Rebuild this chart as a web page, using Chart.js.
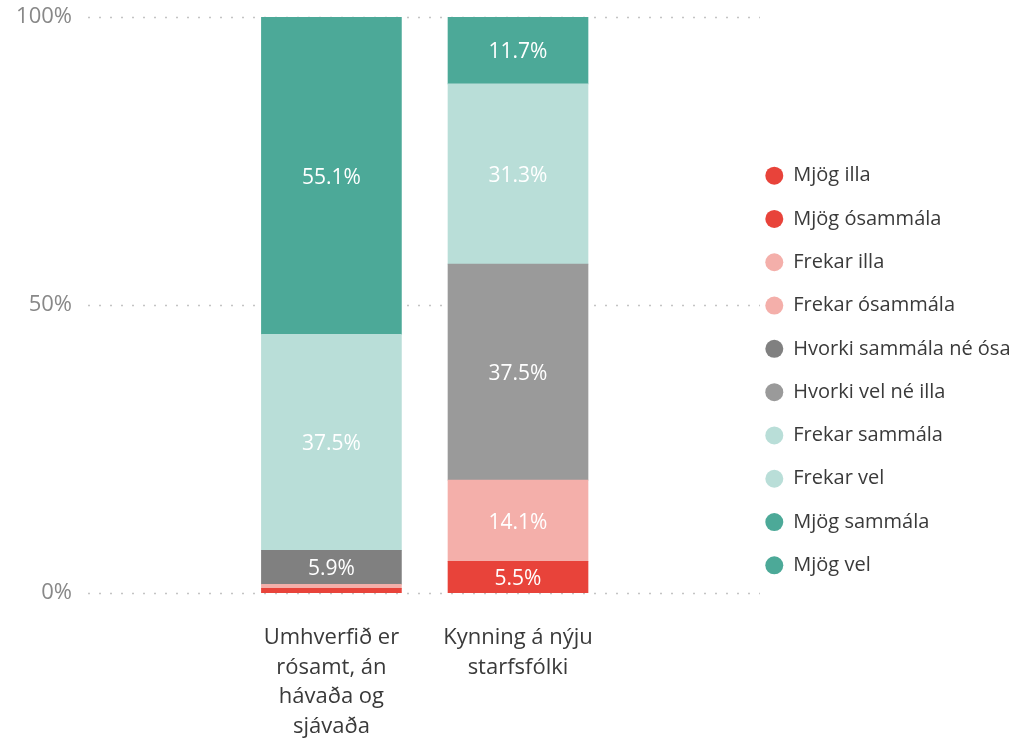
<!DOCTYPE html>
<html>
<head>
<meta charset="utf-8">
<script src="https://cdn.jsdelivr.net/npm/chart.js@4.4.1/dist/chart.umd.min.js"></script>
<style>
  html, body { margin: 0; padding: 0; background: #fff; }
</style>
</head>
<body>
<canvas id="chart" width="1012" height="741"></canvas>
<script>
const categories = [
  ['Umhverfið er', 'rósamt, án', 'hávaða og', 'sjávaða'],
  ['Kynning á nýju', 'starfsfólki']
];

const seriesNames = [
  'Mjög illa', 'Mjög ósammála', 'Frekar illa', 'Frekar ósammála',
  'Hvorki sammála né ósammála', 'Hvorki vel né illa',
  'Frekar sammála', 'Frekar vel', 'Mjög sammála', 'Mjög vel'
];
const seriesColors = [
  '#E8433A', '#E8433A', '#F4AFAA', '#F4AFAA',
  '#808080', '#9A9A9A',
  '#B9DED8', '#B9DED8', '#4CA998', '#4CA998'
];

// one value per category (percent), null where the question didn't use that answer
const mjogIlla        = [null, 5.5];
const mjogOsammala    = [0.8, null];
const frekarIlla      = [null, 14.1];
const frekarOsammala  = [0.7, null];
const hvorkiSammala   = [5.9, null];
const hvorkiVel       = [null, 37.5];
const frekarSammala   = [37.5, null];
const frekarVel       = [null, 31.3];
const mjogSammala     = [55.1, null];
const mjogVel         = [null, 11.7];

const seriesValues = [
  mjogIlla, mjogOsammala, frekarIlla, frekarOsammala, hvorkiSammala,
  hvorkiVel, frekarSammala, frekarVel, mjogSammala, mjogVel
];

const yTicks = [0, 50, 100];

const FONT = "'Open Sans', 'Noto Sans', sans-serif";

// power bi style dotted gridlines, a bit longer than the plot area
const dottedGrid = {
  id: 'dottedGrid',
  beforeDatasetsDraw(chart) {
    const {ctx, chartArea, scales: {y}} = chart;
    ctx.save();
    ctx.strokeStyle = '#c4c4c4';
    ctx.lineWidth = 1.5;
    ctx.setLineDash([2, 9]);
    yTicks.forEach(v => {
      const py = Math.round(y.getPixelForValue(v)) + 0.5;
      ctx.beginPath();
      ctx.moveTo(chartArea.left, py);
      ctx.lineTo(chartArea.right + 18, py);
      ctx.stroke();
    });
    ctx.restore();
  }
};

// percent labels in the middle of each segment
const segmentLabels = {
  id: 'segmentLabels',
  afterDatasetsDraw(chart) {
    const {ctx} = chart;
    ctx.save();
    ctx.font = '21px ' + FONT;
    ctx.fillStyle = '#ffffff';
    ctx.textAlign = 'center';
    ctx.textBaseline = 'middle';
    chart.data.datasets.forEach((ds, di) => {
      const meta = chart.getDatasetMeta(di);
      meta.data.forEach((el, i) => {
        const v = ds.data[i].y;
        if (v < 3) return;
        const {x, y, base} = el.getProps(['x', 'y', 'base'], true);
        ctx.fillText(v.toFixed(1) + '%', x, (y + base) / 2 + 2);
      });
    });
    ctx.restore();
  }
};

const datasets = seriesNames.map((name, s) => ({
  label: name,
  backgroundColor: seriesColors[s],
  borderWidth: 0,
  barThickness: 140,
  data: categories
    .map((c, i) => ({x: i, y: seriesValues[s][i]}))
    .filter(p => p.y !== null)
}));

new Chart(document.getElementById('chart'), {
  type: 'bar',
  data: {datasets},
  options: {
    responsive: false,
    animation: false,
    layout: {padding: 0},
    plugins: {
      tooltip: {enabled: false},
      legend: {
        position: 'right',
        maxWidth: 270,
        labels: {
          usePointStyle: true,
          pointStyle: 'circle',
          pointStyleWidth: 18,
          boxHeight: 12.7,
          padding: 23.3,
          color: '#3a3a3a',
          font: {family: FONT, size: 20}
        }
      }
    },
    scales: {
      x: {
        type: 'linear',
        stacked: true,
        bounds: 'data',
        min: -1.3046,
        max: 2.2005,
        offset: false,
        grid: {display: false, drawTicks: false},
        border: {display: false},
        afterBuildTicks: s => { s.ticks = categories.map((c, i) => ({value: i})); },
        afterFit: s => { s.height = 148; },
        ticks: {
          autoSkip: false,
          maxRotation: 0,
          padding: 30,
          color: '#3a3a3a',
          font: {family: FONT, size: 22, lineHeight: 29.6 / 22},
          callback: v => categories[v]
        }
      },
      y: {
        stacked: true,
        min: 0,
        max: 100,
        grid: {display: false, drawTicks: false},
        border: {display: false},
        afterBuildTicks: s => { s.ticks = yTicks.map(v => ({value: v})); },
        afterFit: s => { s.width = 88; s.paddingTop = 17; s.paddingBottom = 0; },
        ticks: {
          padding: 16,
          color: '#888',
          font: {family: FONT, size: 22},
          callback: v => v + '%'
        }
      }
    }
  },
  plugins: [dottedGrid, segmentLabels]
});
</script>
</body>
</html>
